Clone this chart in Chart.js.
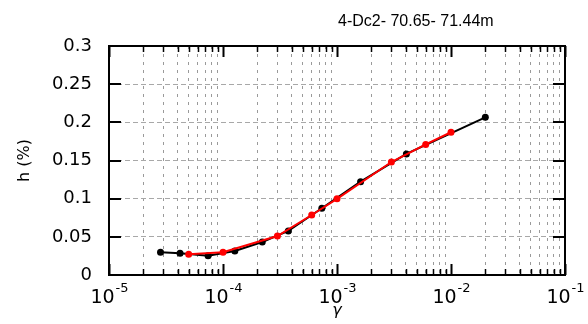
<!DOCTYPE html>
<html>
<head>
<meta charset="utf-8">
<script src="https://cdn.jsdelivr.net/npm/chart.js@4/dist/chart.umd.min.js"></script>
<style>
    html, body { margin: 0; padding: 0; background: #fff; }
    #wrap { width: 588px; height: 324px; position: relative; }
</style>
</head>
<body>
<div id="wrap"><canvas id="hChart"></canvas></div>
<script>
// Dữ liệu
const chartTitle = "4-Dc2- 70.65- 71.44m";

const blackStrain = [2.83e-5, 4.2e-5, 7.4e-5, 1.27e-4, 2.21e-4, 3.74e-4, 7.36e-4, 1.61e-3, 4.06e-3, 2.0e-2];
const blackH      = [0.0297, 0.0284, 0.0253, 0.0315, 0.0432, 0.0577, 0.0874, 0.1223, 0.1586, 0.2066];

const redStrain = [5e-5, 1e-4, 3e-4, 6e-4, 1e-3, 3e-3, 6e-3, 1e-2];
const redH      = [0.0271, 0.0297, 0.0511, 0.0786, 0.0998, 0.148, 0.171, 0.187];

// Trục
const xDecades = [1e-5, 1e-4, 1e-3, 1e-2, 1e-1];
const xTickBase = ["10", "10", "10", "10", "10"];
const xTickExp = ["-5", "-4", "-3", "-2", "-1"];
const yTicks = [0, 0.05, 0.1, 0.15, 0.2, 0.25, 0.3];
const yTickLabels = ["0", "0.05", "0.1", "0.15", "0.2", "0.25", "0.3"];

// Vạch chia phụ 2..9 trong mỗi thập phân
const xMinorSteps = [2, 3, 4, 5, 6, 7, 8, 9];
const xAllTicks = [];
xDecades.forEach((d, i) => {
    xAllTicks.push({ value: d, major: true });
    if (i < xDecades.length - 1) {
        xMinorSteps.forEach(m => xAllTicks.push({ value: parseFloat((m * d).toPrecision(3)), major: false }));
    }
});

function isDecade(v) {
    return xDecades.some(d => Math.abs(v - d) / d < 1e-6);
}

function toPoints(xs, ys) {
    return xs.map((x, i) => ({ x: x, y: ys[i] }));
}

const FONT = "'DejaVu Sans', sans-serif";

// Khung, vạch chia hướng vào trong, nhãn 10^n và tiêu đề
const framePlugin = {
    id: "frame",
    afterDraw(chart) {
        const ctx = chart.ctx;
        const area = chart.chartArea;
        const xs = chart.scales.x;
        const ys = chart.scales.y;

        ctx.save();
        ctx.strokeStyle = "#000";

        xs.ticks.forEach(t => {
            const px = Math.round(xs.getPixelForValue(t.value)) + 0.5;
            const len = t.major ? 11 : 6;
            ctx.lineWidth = t.major ? 2 : 1.5;
            ctx.beginPath();
            ctx.moveTo(px, area.bottom);
            ctx.lineTo(px, area.bottom - len);
            ctx.moveTo(px, area.top);
            ctx.lineTo(px, area.top + len);
            ctx.stroke();
        });

        ctx.lineWidth = 2;
        ys.ticks.forEach(t => {
            const py = Math.round(ys.getPixelForValue(t.value));
            ctx.beginPath();
            ctx.moveTo(area.left, py);
            ctx.lineTo(area.left + 12, py);
            ctx.moveTo(area.right, py);
            ctx.lineTo(area.right - 12, py);
            ctx.stroke();
        });

        ctx.lineWidth = 2;
        ctx.strokeRect(area.left, area.top, area.right - area.left, area.bottom - area.top);

        // Nhãn trục x dạng 10 mũ
        ctx.fillStyle = "#000";
        ctx.textBaseline = "alphabetic";
        ctx.textAlign = "left";
        xDecades.forEach((d, i) => {
            const px = xs.getPixelForValue(d);
            ctx.font = "19px " + FONT;
            const wBase = ctx.measureText(xTickBase[i]).width;
            ctx.font = "13px " + FONT;
            const wExp = ctx.measureText(xTickExp[i]).width;
            const x0 = px - (wBase + wExp) / 2;
            ctx.font = "19px " + FONT;
            ctx.fillText(xTickBase[i], x0, 303);
            ctx.font = "13px " + FONT;
            ctx.fillText(xTickExp[i], x0 + wBase + 1, 292);
        });

        ctx.font = "16px 'Liberation Sans', sans-serif";
        ctx.fillText(chartTitle, 338, 26);
        ctx.restore();
    }
};

const ctx = document.getElementById("hChart").getContext("2d");

new Chart(ctx, {
    type: "line",
    data: {
        datasets: [
            {
                label: "red",
                data: toPoints(redStrain, redH),
                borderColor: "#ff0000",
                backgroundColor: "#ff0000",
                borderWidth: 2,
                pointRadius: 3.5,
                pointBorderWidth: 0,
                tension: 0
            },
            {
                label: "black",
                data: toPoints(blackStrain, blackH),
                borderColor: "#000000",
                backgroundColor: "#000000",
                borderWidth: 2,
                pointRadius: 3.5,
                pointBorderWidth: 0,
                tension: 0
            }
        ]
    },
    options: {
        responsive: true,
        maintainAspectRatio: false,
        animation: false,
        layout: {
            padding: { top: 46, right: 23, left: 0, bottom: 0 }
        },
        plugins: {
            legend: { display: false },
            tooltip: { enabled: false }
        },
        scales: {
            x: {
                type: "logarithmic",
                min: 1e-5,
                max: 1e-1,
                afterBuildTicks: scale => {
                    scale.ticks = xAllTicks.map(t => ({ value: t.value, major: t.major }));
                },
                afterFit: scale => {
                    scale.height = 49;
                },
                ticks: {
                    display: false
                },
                grid: {
                    drawTicks: false,
                    lineWidth: 1,
                    color: c => (c.tick && isDecade(c.tick.value)) ? "rgba(0,0,0,0)" : "#9a9a9a"
                },
                border: { display: false, dash: [3, 5] },
                title: {
                    display: true,
                    text: "\u03B3",
                    color: "#000",
                    font: { family: FONT, size: 16, style: "italic" },
                    padding: { top: 0, bottom: 4 }
                }
            },
            y: {
                type: "linear",
                min: 0,
                max: 0.3,
                afterBuildTicks: scale => {
                    scale.ticks = yTicks.map(v => ({ value: v }));
                },
                afterFit: scale => {
                    scale.width = 109;
                },
                ticks: {
                    padding: 17,
                    color: "#000",
                    font: { family: FONT, size: 18 },
                    callback: function (value) {
                        const i = yTicks.findIndex(v => Math.abs(v - value) < 1e-9);
                        return i >= 0 ? yTickLabels[i] : "";
                    }
                },
                grid: {
                    drawTicks: false,
                    lineWidth: 1,
                    color: "#a8a8a8"
                },
                border: { display: false, dash: [5, 3] },
                title: {
                    display: true,
                    text: "h (%)",
                    color: "#000",
                    font: { family: FONT, size: 16 },
                    padding: { top: 15, bottom: 0 }
                }
            }
        }
    },
    plugins: [framePlugin]
});
</script>
</body>
</html>
